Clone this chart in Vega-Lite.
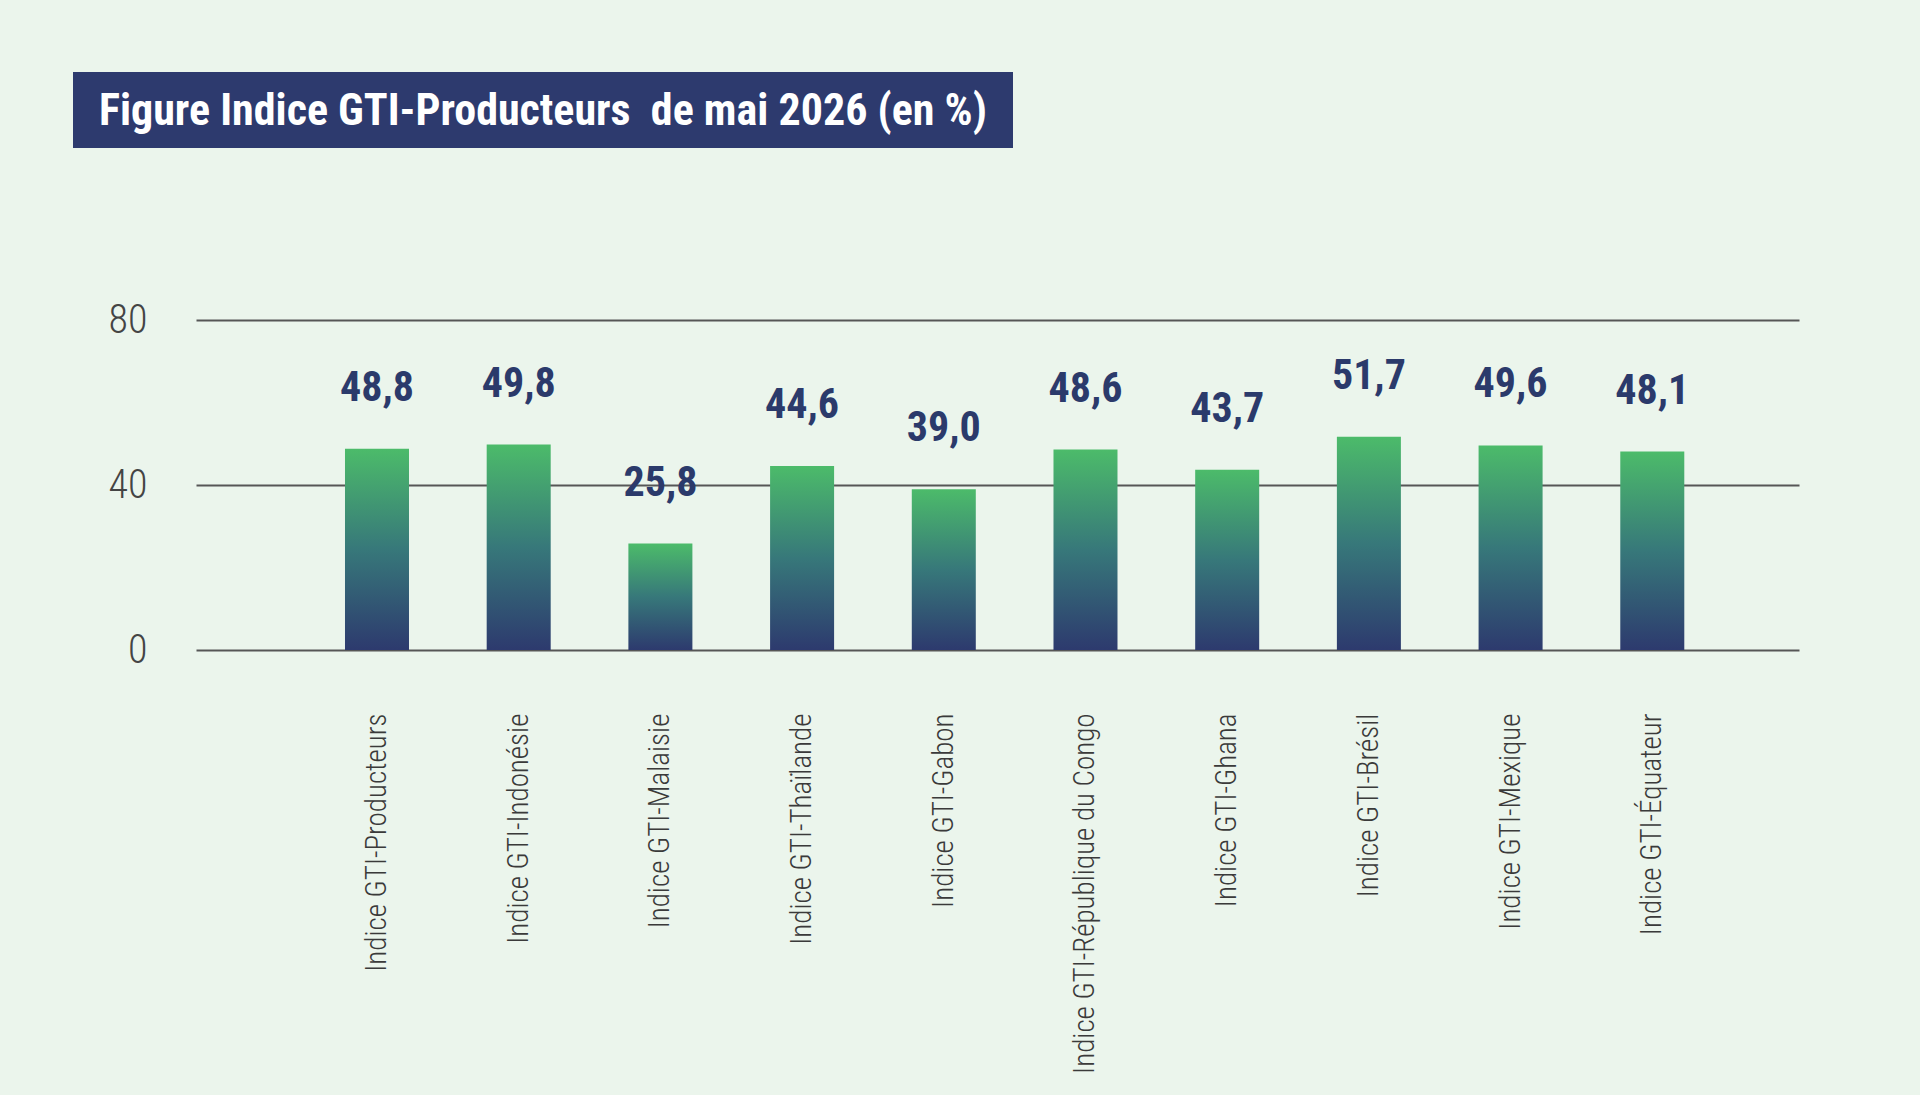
{
  "$schema": "https://vega.github.io/schema/vega-lite/v6.json",
  "background": "#ebf5ec",
  "padding": {"left": 73, "top": 72, "right": 121, "bottom": 40},
  "autosize": {"type": "pad"},
  "config": {
    "locale": {"number": {"decimal": ",", "thousands": " ", "grouping": [3], "currency": ["", " €"]}},
    "view": {"stroke": null},
    "font": "Roboto Condensed, DejaVu Sans Condensed, sans-serif"
  },
  "spacing": 152,
  "datasets": {
    "indices": [
      {"indice": "Indice GTI-Producteurs", "valeur": 48.8},
      {"indice": "Indice GTI-Indonésie", "valeur": 49.8},
      {"indice": "Indice GTI-Malaisie", "valeur": 25.8},
      {"indice": "Indice GTI-Thaïlande", "valeur": 44.6},
      {"indice": "Indice GTI-Gabon", "valeur": 39.0},
      {"indice": "Indice GTI-République du Congo", "valeur": 48.6},
      {"indice": "Indice GTI-Ghana", "valeur": 43.7},
      {"indice": "Indice GTI-Brésil", "valeur": 51.7},
      {"indice": "Indice GTI-Mexique", "valeur": 49.6},
      {"indice": "Indice GTI-Équateur", "valeur": 48.1}
    ]
  },
  "vconcat": [
    {
      "width": 940,
      "height": 76,
      "view": {"fill": "#2d3a6e", "stroke": null},
      "data": {"values": [{"titre": "Figure Indice GTI-Producteurs\u00a0 de mai 2026 (en %)"}]},
      "mark": {
        "type": "text",
        "align": "center",
        "baseline": "middle",
        "dy": 2,
        "fontWeight": "bold",
        "fontSize": 44,
        "color": "#ffffff"
      },
      "encoding": {"text": {"field": "titre", "type": "nominal"}}
    },
    {
      "width": 1726,
      "height": 330,
      "data": {"name": "indices"},
      "encoding": {
        "x": {
          "field": "indice",
          "type": "nominal",
          "sort": null,
          "scale": {"range": [123, 1726], "paddingInner": 0.5483, "paddingOuter": 0.9305, "align": 0.565},
          "axis": {
            "title": null,
            "domain": false,
            "ticks": false,
            "labelAngle": -90,
            "labelPadding": 63,
            "labelFontSize": 29,
            "labelFontWeight": 300,
            "labelColor": "#3a3a3a",
            "labelLimit": 500
          }
        },
        "y": {
          "field": "valeur",
          "type": "quantitative",
          "scale": {"domain": [0, 80], "nice": false},
          "axis": {
            "title": null,
            "values": [0, 40, 80],
            "offset": -123,
            "domain": false,
            "ticks": false,
            "grid": true,
            "gridColor": "#565656",
            "gridWidth": 2,
            "labelFontSize": 40,
            "labelFontWeight": 300,
            "labelColor": "#444444",
            "labelPadding": 49
          }
        }
      },
      "layer": [
        {
          "mark": {
            "type": "bar",
            "color": {
              "gradient": "linear",
              "x1": 0, "y1": 0, "x2": 0, "y2": 1,
              "stops": [
                {"offset": 0, "color": "#4cbb6a"},
                {"offset": 0.5, "color": "#37787a"},
                {"offset": 1, "color": "#2d3a6e"}
              ]
            }
          }
        },
        {
          "mark": {
            "type": "text",
            "baseline": "alphabetic",
            "dy": -48,
            "fontWeight": "bold",
            "fontSize": 42,
            "color": "#2b3a6b"
          },
          "encoding": {"text": {"field": "valeur", "type": "quantitative", "format": ".1f"}}
        }
      ]
    }
  ]
}
